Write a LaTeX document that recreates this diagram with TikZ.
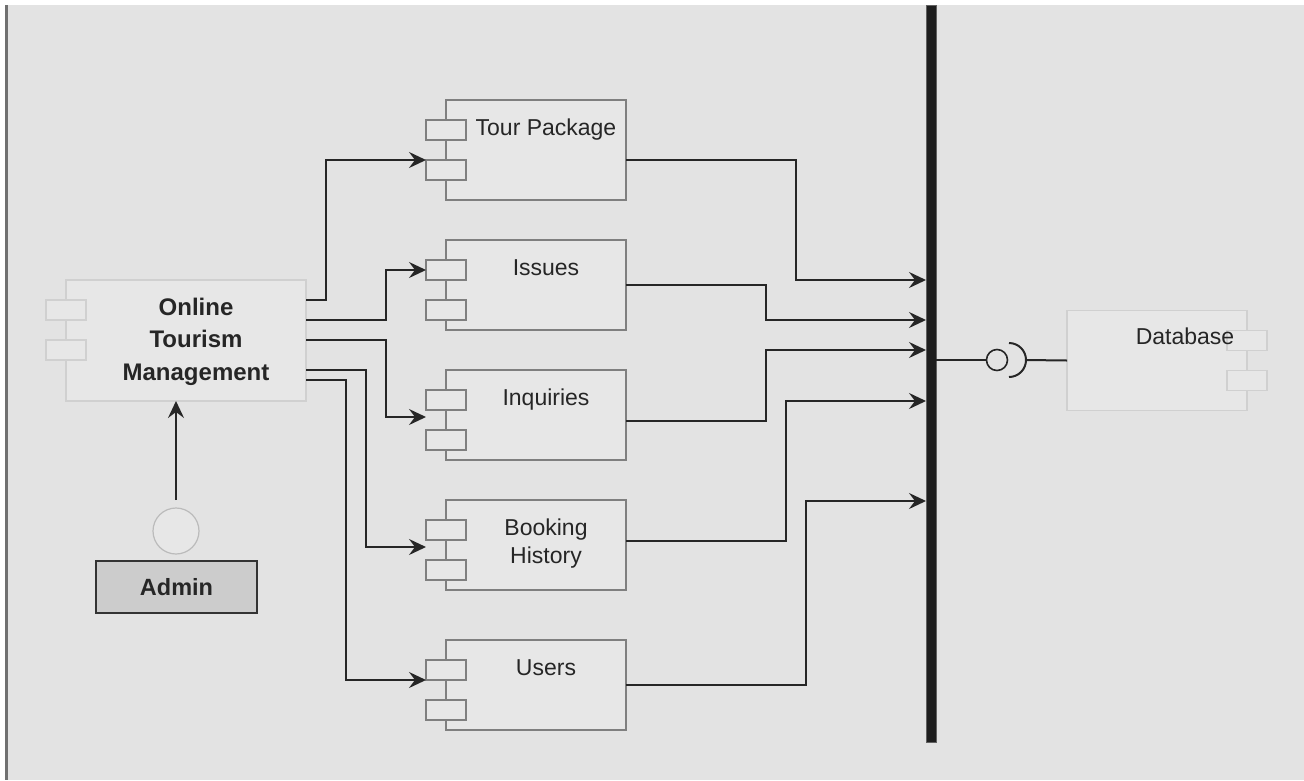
\documentclass[tikz,border=0pt]{standalone}
\usepackage{fontspec}
\setmainfont{Liberation Sans}
\usepackage{tikz}
\usetikzlibrary{positioning, arrows.meta, calc}
\definecolor{otBack}{HTML}{E3E3E3}
\definecolor{otFill}{HTML}{E7E7E7}
\definecolor{otEdge}{HTML}{7F7F7F}
\definecolor{otSoft}{HTML}{D0D0D0}
\definecolor{otLine}{HTML}{262626}
\definecolor{otBus}{HTML}{1E1E1E}
\definecolor{otActor}{HTML}{CCCCCC}
\definecolor{otFrame}{HTML}{707070}
\tikzset{
    otCompBase/.style={
        rectangle,
        draw=otEdge,
        fill=otFill,
        line width=1.6pt,
        inner sep=0pt,
        outer sep=0pt,
        minimum width=180pt,
        minimum height=90pt
    },
    otPortBase/.style={
        rectangle,
        draw=otEdge,
        fill=otFill,
        line width=1.6pt,
        inner sep=0pt,
        outer sep=0pt,
        minimum width=40pt,
        minimum height=20pt
    },
    % Light variants
    otSoftComp/.style={otCompBase, draw=otSoft, line width=1.2pt},
    otSoftPort/.style={otPortBase, draw=otSoft, line width=1.2pt},
    % Text
    otLabel/.style={font=\fontsize{23}{27.5}\selectfont, text=black!85, anchor=base, align=center, inner sep=0pt},
    otBold/.style={font=\fontsize{24}{32.5}\selectfont\bfseries, text=black!85, align=center, inner sep=0pt},
    % Arrows
    otArrowBase/.style={-{Stealth[length=17pt, width=16pt, inset=6pt]}, line width=2pt, draw=otLine},
    otWire/.style={line width=2pt, draw=otLine}
}
\begin{document}
\begin{tikzpicture}[x=1pt, y=-1pt, node distance=40pt]
    \useasboundingbox (0,0) rectangle (1304,780);
    \fill[white] (0,0) rectangle (1304,780);
    \fill[otBack] (5,5) rectangle (1304,780);
    \draw[otFrame, line width=2.5pt] (6.25,5) -- (6.25,780);

    \node[rectangle, fill=otBus, draw=otBus!70, line width=0.8pt, minimum width=10pt, minimum height=737pt, inner sep=0pt, outer sep=0pt] (bus) at (931,373.5) {};

    % main application
    \node[otSoftComp, minimum width=240pt, minimum height=121pt] (otm) at (186,340.5) {};
    \node[otSoftPort] (otmA) at ([yshift=-30pt]otm.north west) {};
    \node[otSoftPort] (otmB) at ([yshift=-70pt]otm.north west) {};
    \node[otBold] (otmT) at ([xshift=10pt, yshift=-1pt]otm.center) {Online\\Tourism\\Management};

    \node[circle, draw=otSoft!90!black, fill=otFill, line width=1.2pt, minimum size=46pt, inner sep=0pt, outer sep=0pt] (actor) at (176,531) {};
    \node[rectangle, draw=black!80, fill=otActor, line width=1.6pt, minimum width=161pt, minimum height=52pt, outer sep=0pt, text=black!85, font=\fontsize{23.5}{28}\selectfont\bfseries] (admin) at (176.5,587) {Admin};

    % modules
    \node[otCompBase, minimum height=100pt] (tour) at (536,150) {};
    \node[otCompBase, below=of tour] (issues) {};
    \node[otCompBase, below=of issues] (inq) {};
    \node[otCompBase, below=of inq] (book) {};
    \node[otCompBase, below=50pt of book] (users) {};

    \node[otPortBase] (tourA) at ([yshift=-30pt]tour.north west) {};
    \node[otPortBase] (tourB) at ([yshift=-70pt]tour.north west) {};
    \node[otPortBase] (issuesA) at ([yshift=-30pt]issues.north west) {};
    \node[otPortBase] (issuesB) at ([yshift=-70pt]issues.north west) {};
    \node[otPortBase] (inqA) at ([yshift=-30pt]inq.north west) {};
    \node[otPortBase] (inqB) at ([yshift=-70pt]inq.north west) {};
    \node[otPortBase] (bookA) at ([yshift=-30pt]book.north west) {};
    \node[otPortBase] (bookB) at ([yshift=-70pt]book.north west) {};
    \node[otPortBase] (usersA) at ([yshift=-30pt]users.north west) {};
    \node[otPortBase] (usersB) at ([yshift=-70pt]users.north west) {};

    \node[otLabel] (tourT) at ([xshift=10pt, yshift=-35pt]tour.north) {Tour Package};
    \node[otLabel] (issuesT) at ([xshift=10pt, yshift=-35pt]issues.north) {Issues};
    \node[otLabel] (inqT) at ([xshift=10pt, yshift=-35pt]inq.north) {Inquiries};
    \node[otLabel] (bookT) at ([xshift=10pt, yshift=-63pt]book.north) {Booking\\History};
    \node[otLabel] (usersT) at ([xshift=10pt, yshift=-35pt]users.north) {Users};

    % database side
    \node[otSoftComp, minimum height=100pt] (db) at (1157,360.5) {};
    \node[otSoftPort] (dbA) at ([yshift=-30pt]db.north east) {};
    \node[otSoftPort] (dbB) at ([yshift=-70pt]db.north east) {};
    \node[otLabel] (dbT) at ([xshift=28pt, yshift=-34pt]db.north) {Database};

    \node[circle, draw=otLine, fill=otBack, line width=1.6pt, minimum size=21pt, inner sep=0pt, outer sep=0pt] (lolly) at (997,360) {};
    \coordinate (sock) at ([xshift=12pt]lolly.center);
    \draw[otWire] (bus.east |- lolly) -- (lolly.west);
    \draw[otWire] ([yshift=17pt]sock) arc[start angle=90, end angle=-90, radius=17pt];
    \draw[otWire] ([xshift=17pt]sock) -- (db.west);

    \draw[otArrowBase] ([yshift=8pt]actor.north) -- (actor |- otm.south);

    \draw[otArrowBase] ([yshift=-20pt]otm.north east) -- ++(20,0) |- (tourB.north west);
    \draw[otArrowBase] ([yshift=-40pt]otm.north east) -- ++(80,0) |- (issuesA.west);
    \draw[otArrowBase] ([yshift=-60pt]otm.north east) -- ++(80,0) |- ([yshift=-7pt]inqA.south west);
    \draw[otArrowBase] ([yshift=-90pt]otm.north east) -- ++(60,0) |- ([yshift=-7pt]bookA.south west);
    \draw[otArrowBase] ([yshift=-100pt]otm.north east) -- ++(40,0) |- (usersA.south west);

    \draw[otArrowBase] ([yshift=-10pt]tour.east) -- ++(170,0) |- ([yshift=-275pt]bus.north west);
    \draw[otArrowBase] (issues.east) -- ++(140,0) |- ([yshift=-315pt]bus.north west);
    \draw[otArrowBase] ([yshift=-6pt]inq.east) -- ++(140,0) |- ([yshift=-345pt]bus.north west);
    \draw[otArrowBase] ([yshift=4pt]book.east) -- ++(160,0) |- ([yshift=-396pt]bus.north west);
    \draw[otArrowBase] (users.east) -- ++(180,0) |- ([yshift=-496pt]bus.north west);
\end{tikzpicture}
\end{document}
